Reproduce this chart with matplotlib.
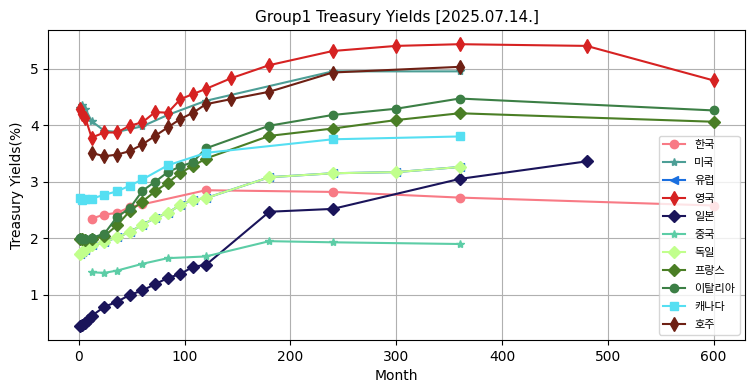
import matplotlib
matplotlib.use("Agg")
import matplotlib.pyplot as plt

plt.rcParams['font.family'] = ['DejaVu Sans', 'Noto Sans CJK KR']

# months to maturity and yields per country
kr_m = [12, 24, 36, 48, 60, 120, 240, 360, 600]
kr_y = [2.35, 2.42, 2.45, 2.55, 2.60, 2.85, 2.82, 2.72, 2.58]

us_m = [1, 3, 6, 12, 24, 36, 60, 84, 120, 240, 360]
us_y = [4.30, 4.35, 4.29, 4.07, 3.90, 3.88, 3.98, 4.18, 4.43, 4.95, 4.95]

eu_m = [1, 3, 6, 12, 24, 36, 48, 60, 72, 84, 96, 108, 120, 180, 240, 300, 360]
eu_y = [1.73, 1.76, 1.80, 1.88, 1.93, 2.02, 2.11, 2.24, 2.36, 2.45, 2.59, 2.68, 2.71, 3.08, 3.15, 3.17, 3.26]

uk_m = [1, 3, 6, 12, 24, 36, 48, 60, 72, 84, 96, 108, 120, 144, 180, 240, 300, 360, 480, 600]
uk_y = [4.29, 4.20, 4.13, 3.78, 3.87, 3.87, 3.99, 4.05, 4.23, 4.22, 4.46, 4.55, 4.64, 4.83, 5.06, 5.31, 5.40, 5.43, 5.40, 4.79]

jp_m = [1, 3, 6, 9, 12, 24, 36, 48, 60, 72, 84, 96, 108, 120, 180, 240, 360, 480]
jp_y = [0.45, 0.47, 0.50, 0.56, 0.63, 0.79, 0.88, 1.00, 1.08, 1.19, 1.30, 1.37, 1.50, 1.53, 2.47, 2.52, 3.05, 3.36]

cn_m = [12, 24, 36, 60, 84, 120, 180, 240, 360]
cn_y = [1.40, 1.39, 1.43, 1.55, 1.65, 1.68, 1.95, 1.93, 1.90]

de_m = eu_m
de_y = eu_y

fr_m = [1, 3, 6, 12, 24, 36, 48, 60, 72, 84, 96, 108, 120, 180, 240, 300, 360, 600]
fr_y = [1.99, 1.98, 1.97, 1.99, 2.04, 2.23, 2.48, 2.65, 2.83, 2.98, 3.16, 3.28, 3.41, 3.81, 3.94, 4.09, 4.21, 4.06]

it_m = [1, 3, 6, 12, 24, 36, 48, 60, 72, 84, 96, 108, 120, 180, 240, 300, 360, 600]
it_y = [2.01, 1.99, 1.98, 2.01, 2.08, 2.38, 2.53, 2.84, 3.00, 3.17, 3.27, 3.35, 3.59, 3.99, 4.18, 4.29, 4.47, 4.26]

ca_m = [1, 3, 6, 12, 24, 36, 48, 60, 84, 120, 240, 360]
ca_y = [2.72, 2.68, 2.70, 2.70, 2.77, 2.83, 2.93, 3.04, 3.29, 3.51, 3.75, 3.80]

au_m = [12, 24, 36, 48, 60, 72, 84, 96, 108, 120, 144, 180, 240, 360]
au_y = [3.51, 3.45, 3.48, 3.54, 3.66, 3.81, 3.96, 4.11, 4.22, 4.37, 4.46, 4.59, 4.93, 5.03]

series = [
    ("한국", kr_m, kr_y, "o", "#f87a85", 6),
    ("미국", us_m, us_y, "*", "#4c9e96", 6),
    ("유럽", eu_m, eu_y, "<", "#1a6fdf", 6),
    ("영국", uk_m, uk_y, "d", "#d62222", 7),
    ("일본", jp_m, jp_y, "D", "#1a145a", 6),
    ("중국", cn_m, cn_y, "*", "#5ccda6", 6),
    ("독일", de_m, de_y, "D", "#c1ff8c", 6),
    ("프랑스", fr_m, fr_y, "D", "#4a7e25", 6),
    ("이탈리아", it_m, it_y, "o", "#3c7f45", 6),
    ("캐나다", ca_m, ca_y, "s", "#55dff2", 6),
    ("호주", au_m, au_y, "d", "#6e2014", 7),
]

fig = plt.figure(figsize=(7.55, 3.91), dpi=100)
ax = fig.add_axes([0.064, 0.13, 0.923, 0.793])
for name, m, y, mk, c, ms in series:
    ax.plot(m, y, marker=mk, color=c, label=name, markersize=ms, linewidth=1.5)

ax.set_title("Group1 Treasury Yields [2025.07.14.]", fontsize=11)
ax.set_xlabel("Month")
ax.set_ylabel("Treasury Yields(%)")
ax.grid(True)
ax.legend(loc="lower right", fontsize=8, labelspacing=0.72)
fig.savefig("out.png")
